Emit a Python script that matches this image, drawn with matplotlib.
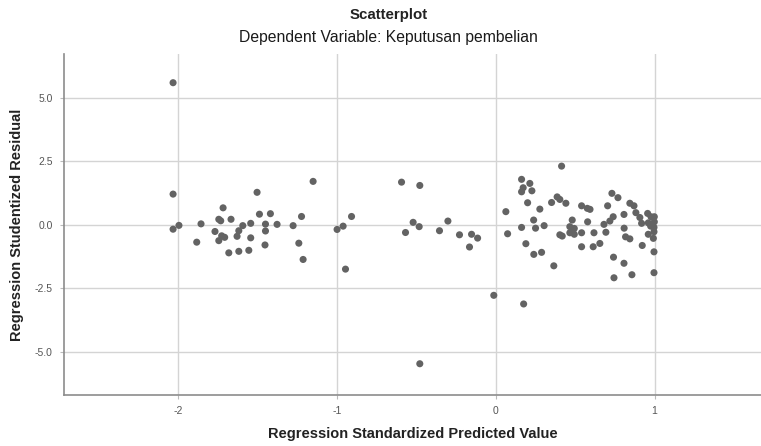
import matplotlib
matplotlib.use("Agg")
import matplotlib.pyplot as plt

# predicted (standardized) vs studentized residual
pred = [
    -2.033, -2.033, -2.033, -1.996, -1.857, -1.884, -1.718, -1.745, -1.733, -1.668,
    -1.769, -1.727, -1.708, -1.745, -1.682, -1.619, -1.556, -1.594, -1.619, -1.630,
    -1.544, -1.544, -1.504, -1.489, -1.451, -1.451, -1.454, -1.420, -1.378, -1.277,
    -1.224, -1.241, -1.214, -1.151,
    -1.000, -0.962, -0.909, -0.947, -0.594, -0.479, -0.569, -0.521, -0.483, -0.355,
    -0.302, -0.229, -0.153, -0.115, -0.166, -0.013, -0.479,
    0.414, 0.063, 0.074, 0.162, 0.214, 0.172, 0.162, 0.227, 0.200, 0.277,
    0.238, 0.162, 0.250, 0.304, 0.189, 0.239, 0.288, 0.365, 0.351, 0.386,
    0.403, 0.441, 0.481, 0.466, 0.494, 0.403, 0.418, 0.466, 0.494, 0.540,
    0.576, 0.593, 0.578, 0.540, 0.618, 0.540, 0.613, 0.655, 0.693, 0.681,
    0.704, 0.718, 0.739, 0.731, 0.769, 0.807, 0.808, 0.817, 0.844, 0.741,
    0.807, 0.744, 0.857, 0.844, 0.870, 0.882, 0.907, 0.918, 0.922, 0.956,
    0.977, 0.998, 0.960, 0.975, 0.998, 0.996, 0.960, 0.996, 0.992, 0.996,
    0.996, 0.175,
]
resid = [
    5.59, 1.21, -0.17, -0.02, 0.04, -0.68, 0.67, 0.22, 0.16, 0.22,
    -0.26, -0.43, -0.49, -0.62, -1.10, -1.04, -1.00, -0.03, -0.23, -0.45,
    0.06, -0.51, 1.28, 0.42, 0.03, -0.24, -0.79, 0.44, 0.02, -0.03,
    0.33, -0.72, -1.36, 1.71,
    -0.18, -0.05, 0.33, -1.74, 1.68, 1.55, -0.30, 0.10, -0.07, -0.23,
    0.15, -0.39, -0.37, -0.52, -0.87, -2.77, -5.46,
    2.31, 0.52, -0.35, 1.79, 1.63, 1.46, 1.30, 1.34, 0.87, 0.62,
    0.19, -0.10, -0.13, -0.03, -0.74, -1.16, -1.08, -1.61, 0.88, 1.10,
    1.00, 0.85, 0.19, -0.07, -0.14, -0.39, -0.44, -0.31, -0.37, 0.75,
    0.65, 0.61, 0.12, -0.31, -0.31, -0.86, -0.86, -0.73, -0.29, 0.02,
    0.75, 0.15, 0.32, 1.24, 1.07, 0.41, -0.13, -0.47, -0.55, -1.27,
    -1.51, -2.08, -1.96, 0.85, 0.75, 0.48, 0.29, 0.06, -0.81, 0.45,
    0.32, 0.32, 0.08, -0.05, 0.12, -0.10, -0.37, -0.27, -0.53, -1.06,
    -1.88, -3.11,
]

xticks = [-2, -1, 0, 1]
yticks = [-5.0, -2.5, 0.0, 2.5, 5.0]

plt.rcParams['font.family'] = ['Liberation Sans', 'DejaVu Sans']

fig = plt.figure(figsize=(7.61, 4.46), dpi=100)
ax = fig.add_axes([0.0841, 0.1143, 0.9159, 0.7647])

ax.scatter(pred, resid, s=26, color='#636363', edgecolors='none', zorder=3)

ax.set_xlim(-2.72, 1.67)
ax.set_ylim(-6.69, 6.72)
ax.set_xticks(xticks)
ax.set_xticklabels([str(t) for t in xticks])
ax.set_yticks(yticks)
ax.set_yticklabels([f"{t:.1f}" for t in yticks])
ax.grid(True, color='#d4d4d4', linewidth=1.0, zorder=0)

for side in ['top', 'right']:
    ax.spines[side].set_visible(False)
for side in ['left', 'bottom']:
    ax.spines[side].set_color('#8c8c8c')
    ax.spines[side].set_linewidth(1.2)

ax.tick_params(axis='both', length=3, color='#bbbbbb', labelsize=7.5,
               labelcolor='#555555', pad=5)

ax.set_xlabel("Regression Standardized Predicted Value", fontsize=10.5,
              fontweight='bold', color='#222222', labelpad=8)
ax.set_ylabel("Regression Studentized Residual", fontsize=10.5,
              fontweight='bold', color='#222222', labelpad=8)

fig.text(0.511, 0.966, "Scatterplot", ha='center', va='center', fontsize=10.8,
         fontweight='bold', color='#222222')
fig.text(0.511, 0.917, "Dependent Variable: Keputusan pembelian", ha='center',
         va='center', fontsize=11.3, color='#1a1a1a')

fig.savefig("out.png", dpi=100)
